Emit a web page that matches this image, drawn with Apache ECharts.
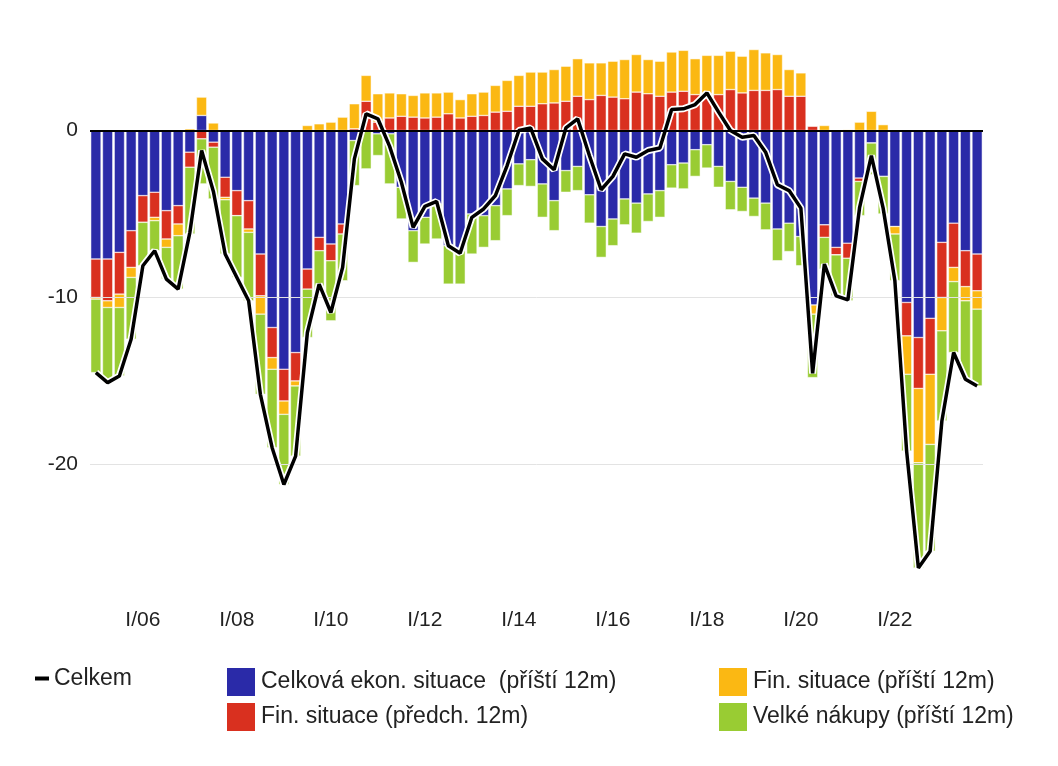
<!DOCTYPE html>
<html>
<head>
<meta charset="utf-8" />
<script src="https://cdn.jsdelivr.net/npm/echarts@6/dist/echarts.min.js"></script>
<style>html,body{margin:0;padding:0;background:#fff;} #content{width:1058px;height:766px;}</style>
</head>
<body>
<div id="content"></div>
<script type="text/javascript">
    var years = [];
    for (var y = 5; y <= 23; y++) {
        var yy = (y < 10 ? "0" : "") + y;
        years.push("I/" + yy, "II/" + yy, "III/" + yy, "IV/" + yy);
    }
    var categories = years;

    var celkovaEkon = [-7.7,-7.7,-7.3,-6.0,-3.9,-3.7,-4.8,-4.5,-1.3,0.9,-0.7,-2.8,-3.6,-4.2,-7.4,-11.8,-14.3,-13.3,-8.3,-6.4,-6.8,-5.6,-0.6,0,-0.2,-0.2,-3.4,-6.0,-5.2,-4.4,-6.9,-7.2,-5.0,-5.1,-4.5,-3.5,-2.0,-1.75,-3.2,-4.2,-2.4,-2.15,-3.85,-5.75,-5.3,-4.1,-4.35,-3.8,-3.6,-2.05,-1.95,-1.15,-0.85,-2.15,-3.05,-3.4,-4.05,-4.35,-5.9,-5.55,-6.35,-10.45,-5.65,-7.0,-6.75,-2.85,-0.75,-2.75,-5.75,-10.3,-12.4,-11.25,-6.7,-5.55,-7.2,-7.4];
    var finPredch = [-2.3,-2.5,-2.5,-2.2,-1.6,-1.5,-1.7,-1.1,-0.9,-0.5,-0.3,-1.2,-1.5,-1.7,-2.5,-1.8,-1.9,-1.7,-1.2,-0.8,-1.0,-0.6,0.1,1.75,0.5,0.75,0.85,0.8,0.75,0.8,1.0,0.75,0.85,0.9,1.1,1.15,1.45,1.45,1.6,1.65,1.75,2.05,1.85,2.1,2.0,1.9,2.3,2.2,2.05,2.3,2.35,2.15,2.2,2.15,2.45,2.25,2.4,2.4,2.45,2.05,2.05,0.25,-0.75,-0.45,-0.9,-0.2,0,0,0,-2.0,-3.05,-3.35,-3.3,-2.65,-2.15,-2.2];
    var finPristi = [-0.1,-0.4,-0.8,-0.6,0,-0.2,-0.5,-0.7,0.1,1.1,0.45,-0.15,0,-0.2,-1.1,-0.7,-0.8,-0.3,0.3,0.4,0.5,0.8,1.5,1.55,1.7,1.5,1.35,1.3,1.5,1.45,1.3,1.1,1.35,1.4,1.6,1.85,1.85,2.05,1.9,2.0,2.1,2.25,2.2,1.95,2.15,2.35,2.25,2.05,2.1,2.4,2.45,2.15,2.3,2.35,2.3,2.2,2.45,2.25,2.1,1.6,1.4,-0.55,0.3,0,0.05,0.5,1.15,0.35,-0.45,-2.3,-4.45,-4.2,-2.0,-0.85,-0.85,-1.1];
    var velkeNakupy = [-4.4,-4.5,-4.1,-3.7,-2.6,-1.8,-1.9,-3.2,-4.0,-2.7,-3.1,-3.25,-3.7,-4.1,-4.8,-4.7,-4.2,-4.2,-2.9,-2.4,-3.6,-2.8,-2.7,-2.3,-1.3,-3.0,-1.9,-1.9,-1.6,-2.1,-2.3,-2.0,-2.4,-1.9,-2.1,-1.6,-1.3,-1.6,-2.0,-1.8,-1.3,-1.45,-1.7,-1.85,-1.6,-1.55,-1.8,-1.65,-1.6,-1.4,-1.55,-1.6,-1.4,-1.25,-1.7,-1.45,-1.1,-1.6,-1.9,-1.7,-1.75,-3.8,-1.9,-2.45,-2.55,-2.05,-1.9,-2.25,-2.8,-4.6,-6.3,-6.4,-5.4,-4.25,-4.7,-4.6];
    var celkem = [-14.5,-15.1,-14.7,-12.5,-8.1,-7.2,-8.9,-9.5,-6.1,-1.2,-3.65,-7.4,-8.8,-10.2,-15.8,-19.0,-21.2,-19.5,-12.1,-9.2,-10.9,-8.2,-1.7,1.0,0.7,-0.95,-3.1,-5.8,-4.55,-4.25,-6.9,-7.35,-5.2,-4.7,-3.9,-2.1,0.0,0.15,-1.7,-2.35,0.15,0.7,-1.5,-3.55,-2.75,-1.4,-1.6,-1.2,-1.05,1.25,1.3,1.55,2.25,1.1,0.0,-0.4,-0.3,-1.3,-3.25,-3.6,-4.65,-14.55,-8.0,-9.9,-10.15,-4.6,-1.5,-4.65,-9.0,-19.2,-26.2,-25.2,-17.4,-13.3,-14.9,-15.3];
    var yTicks = [0, -10, -20];

    var names = ["Celková ekon. situace  (příští 12m)", "Fin. situace (předch. 12m)", "Fin. situace (příští 12m)", "Velké nákupy (příští 12m)"];
    var colors = ["#2a2aa8", "#d9301f", "#fbb813", "#99cc33"];
    var values = [celkovaEkon, finPredch, finPristi, velkeNakupy];

    var series = [];
    for (var i = 0; i < 4; i++) {
        series.push({
            name: names[i], type: "bar", stack: "s", data: values[i],
            barCategoryGap: "12%",
            itemStyle: { color: colors[i], borderColor: "#fff", borderWidth: 0.5 },
            emphasis: { disabled: true }
        });
    }
    series[0].markLine = {
        symbol: "none", silent: true, label: { show: false },
        data: [
            { yAxis: -10, lineStyle: { color: "#e3e3e3", width: 1, type: "solid" } },
            { yAxis: -20, lineStyle: { color: "#e3e3e3", width: 1, type: "solid" } },
            { yAxis: 0, lineStyle: { color: "#000", width: 2, type: "solid" } }
        ]
    };
    series.push({
        name: "outline", type: "line", data: celkem, symbol: "none", z: 4,
        lineStyle: { color: "#fff", width: 7 }
    });
    series.push({
        name: "Celkem", type: "line", data: celkem, symbol: "none", z: 5,
        itemStyle: { color: "#000" },
        lineStyle: { color: "#000", width: 3.5 }
    });

    var legendText = { fontSize: 23, color: "#222", fontFamily: "Liberation Sans" };
    var myChart = echarts.init(document.getElementById("content"));
    myChart.setOption({
        animation: false,
        textStyle: { fontFamily: "Liberation Sans" },
        grid: { left: 90, right: 75, top: 47, bottom: 168 },
        xAxis: {
            type: "category", data: categories,
            axisLine: { show: false, onZero: false }, axisTick: { show: false },
            axisLabel: {
                fontSize: 21, color: "#222", margin: 12,
                interval: function (idx) { return idx % 8 === 4; }
            }
        },
        yAxis: {
            type: "value", min: -28, max: 5, interval: 1,
            splitLine: { show: false }, axisLine: { show: false }, axisTick: { show: false },
            axisLabel: {
                fontSize: 21, color: "#222", margin: 12,
                formatter: function (v) { return yTicks.indexOf(v) >= 0 ? String(v) : ""; }
            }
        },
        legend: [
            { data: [{ name: "Celkem", icon: "rect" }], left: 30, top: 662, itemWidth: 14, itemHeight: 4, itemGap: 10, textStyle: legendText, selectedMode: false },
            { data: [names[0], names[1]], orient: "vertical", left: 220, top: 661, icon: "rect", itemWidth: 30, itemHeight: 30, itemGap: 3, textStyle: legendText, selectedMode: false },
            { data: [names[2], names[3]], orient: "vertical", left: 712, top: 661, icon: "rect", itemWidth: 30, itemHeight: 30, itemGap: 3, textStyle: legendText, selectedMode: false }
        ],
        series: series
    });
</script>
</body>
</html>
